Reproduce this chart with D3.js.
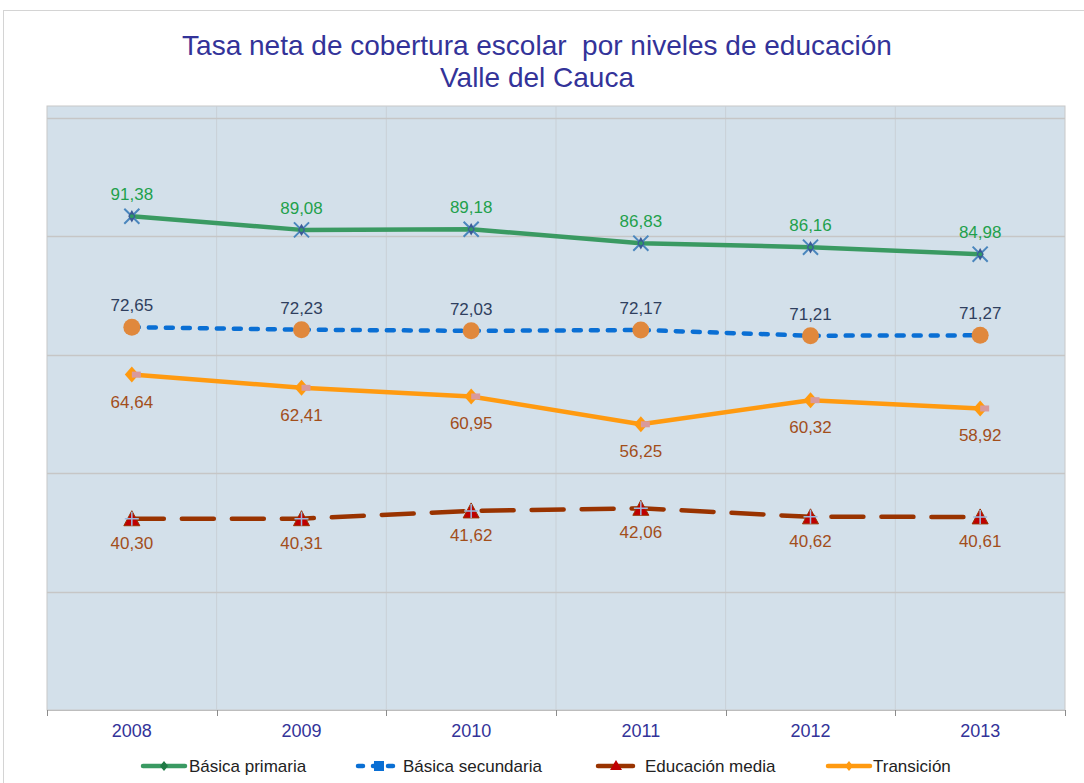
<!DOCTYPE html>
<html>
<head>
<meta charset="utf-8">
<script src="https://cdn.jsdelivr.net/npm/d3@7"></script>
<style>
  body { margin: 0; background: #fff; }
  svg { display: block; font-family: "Liberation Sans", Arial, sans-serif; }
</style>
</head>
<body>
<div id="chart"></div>
<script>
// data
const years = ['2008', '2009', '2010', '2011', '2012', '2013'];
const primaria = [91.38, 89.08, 89.18, 86.83, 86.16, 84.98];
const secundaria = [72.65, 72.23, 72.03, 72.17, 71.21, 71.27];
const media = [40.30, 40.31, 41.62, 42.06, 40.62, 40.61];
const transicion = [64.64, 62.41, 60.95, 56.25, 60.32, 58.92];
const gridValues = [28, 48, 68, 88, 108];

const width = 1084, height = 783;
const plot = { left: 47, right: 1065, top: 106, bottom: 710 };

const svg = d3.select('#chart').append('svg')
    .attr('width', width)
    .attr('height', height);

// outer chart border
svg.append('rect')
    .attr('x', 3.5).attr('y', 10.5)
    .attr('width', 1100).attr('height', 800)
    .attr('fill', 'none')
    .attr('stroke', '#d4d4d4');

// title
const title = svg.append('text')
    .attr('text-anchor', 'middle')
    .attr('fill', '#333399')
    .style('font-size', '28px');
title.append('tspan').attr('x', 537).attr('y', 55)
    .text('Tasa neta de cobertura escolar\u00a0 por niveles de educación');
title.append('tspan').attr('x', 537).attr('y', 87)
    .text('Valle del Cauca');

const x = d3.scaleBand().domain(years).range([plot.left, plot.right]).padding(0);
const y = d3.scaleLinear().domain([8, 110]).range([plot.bottom, plot.top]);

// plot area
svg.append('rect')
    .attr('x', plot.left).attr('y', plot.top)
    .attr('width', plot.right - plot.left)
    .attr('height', plot.bottom - plot.top)
    .attr('fill', '#d3e0ea')
    .attr('stroke', '#c8c8c8');

// vertical grid at category boundaries
const edges = years.map(d => x(d)).concat([plot.right]);
svg.append('g').selectAll('line')
    .data(edges.slice(1, -1))
    .enter().append('line')
    .attr('x1', d => d).attr('x2', d => d)
    .attr('y1', plot.top).attr('y2', plot.bottom)
    .attr('stroke', '#c9d0d6');

// horizontal grid
svg.append('g').selectAll('line')
    .data(gridValues)
    .enter().append('line')
    .attr('x1', plot.left).attr('x2', plot.right)
    .attr('y1', d => Math.round(y(d)) + 0.5).attr('y2', d => Math.round(y(d)) + 0.5)
    .attr('stroke', '#c6c6c6')
    .attr('stroke-width', 1.5);

// x axis
svg.append('line')
    .attr('x1', plot.left).attr('x2', plot.right)
    .attr('y1', plot.bottom + 0.5).attr('y2', plot.bottom + 0.5)
    .attr('stroke', '#bdbdbd');
svg.append('g').selectAll('line')
    .data(edges)
    .enter().append('line')
    .attr('x1', d => Math.round(d) + 0.5).attr('x2', d => Math.round(d) + 0.5)
    .attr('y1', plot.bottom).attr('y2', plot.bottom + 6)
    .attr('stroke', '#8c8c8c');

const xAxis = svg.append('g')
    .attr('transform', `translate(0,${plot.bottom + 10})`)
    .call(d3.axisBottom(x).tickSize(0).tickPadding(4));
xAxis.select('.domain').remove();
xAxis.selectAll('text')
    .attr('fill', '#333399')
    .style('font-size', '18px')
    .style('font-family', '"Liberation Sans", Arial, sans-serif');

const cx = d => x(d) + x.bandwidth() / 2;
const line = d3.line().x(d => cx(d.year)).y(d => y(d.value));
const fmt = v => v.toFixed(2).replace('.', ',');

const seriesList = [
    { name: 'Básica primaria', values: primaria, color: '#3a9a62', dash: null, labelColor: '#1fa04c', dy: -16, marker: 'star' },
    { name: 'Básica secundaria', values: secundaria, color: '#0a6fd4', dash: '7,10', labelColor: '#2f3f5e', dy: -16, marker: 'circle' },
    { name: 'Educación media', values: media, color: '#993300', dash: '32,18', labelColor: '#a24e1a', dy: 30, marker: 'triangle' },
    { name: 'Transición', values: transicion, color: '#ff9a10', dash: null, labelColor: '#a24e1a', dy: 33, marker: 'diamond' }
];

function drawMarker(g, type) {
    if (type === 'star') {
        g.append('path')
            .attr('d', d3.symbol().type(d3.symbolX).size(150)())
            .attr('stroke', '#4a86bd').attr('stroke-width', 2).attr('fill', 'none');
        g.append('path')
            .attr('d', d3.symbol().type(d3.symbolDiamond).size(45)())
            .attr('fill', '#3b5a96');
        g.append('circle').attr('r', 2).attr('fill', '#2e9a66');
    } else if (type === 'circle') {
        g.append('circle').attr('r', 8.5).attr('fill', '#e0883c');
    } else if (type === 'triangle') {
        g.append('path')
            .attr('d', 'M0,-8L8,7L-8,7Z')
            .attr('fill', '#c00000').attr('stroke', '#993300').attr('stroke-width', 1);
        g.append('path').attr('d', 'M-7,0H7M0,-7V7')
            .attr('stroke', '#9cb9e0').attr('stroke-width', 1.5);
    } else if (type === 'diamond') {
        g.append('path')
            .attr('d', 'M0,-8L7,0L0,8L-7,0Z')
            .attr('fill', '#ff9a10');
        g.append('rect').attr('x', 0).attr('y', -3).attr('width', 9).attr('height', 6)
            .attr('fill', '#d99a9c');
    }
}

function drawLegendMarker(g, s) {
    if (s.marker === 'circle') {
        g.append('rect').attr('x', -5).attr('y', -5).attr('width', 10).attr('height', 10).attr('fill', '#0a6fd4');
    } else if (s.marker === 'triangle') {
        g.append('path').attr('d', 'M0,-6L6,4L-6,4Z').attr('fill', '#c00000');
    } else {
        g.append('path').attr('d', 'M0,-5L4,0L0,5L-4,0Z').attr('fill', s.marker === 'star' ? '#1f7a45' : '#ff9a10');
    }
}

seriesList.forEach(s => {
    const pts = years.map((yr, i) => ({ year: yr, value: s.values[i] }));
    const g = svg.append('g');
    g.append('path')
        .datum(pts)
        .attr('d', line)
        .attr('fill', 'none')
        .attr('stroke', s.color)
        .attr('stroke-width', 4.5)
        .attr('stroke-linecap', s.dash ? 'round' : 'butt')
        .attr('stroke-linejoin', 'round')
        .attr('stroke-dasharray', s.dash);

    pts.forEach(p => {
        const m = g.append('g').attr('transform', `translate(${cx(p.year)},${y(p.value)})`);
        drawMarker(m, s.marker);
    });

    g.selectAll('text.lbl')
        .data(pts)
        .enter().append('text')
        .attr('class', 'lbl')
        .attr('x', d => cx(d.year))
        .attr('y', d => y(d.value) + s.dy)
        .attr('text-anchor', 'middle')
        .attr('fill', s.labelColor)
        .style('font-size', '17px')
        .text(d => fmt(d.value));
});

// legend
const legendX = [143, 358, 598, 828];
const legendTextX = [189, 403, 645, 873];
seriesList.forEach((s, i) => {
    const lg = svg.append('g').attr('transform', `translate(${legendX[i]},766)`);
    lg.append('line')
        .attr('x1', 0).attr('x2', s.marker === 'triangle' ? 35 : 42)
        .attr('stroke', s.color)
        .attr('stroke-width', 4.5)
        .attr('stroke-linecap', 'round')
        .attr('stroke-dasharray', s.marker === 'circle' ? '5,10' : null);
    const m = lg.append('g').attr('transform', `translate(${s.marker === 'triangle' ? 18 : 21},0)`);
    drawLegendMarker(m, s);
    svg.append('text')
        .attr('x', legendTextX[i])
        .attr('y', 772)
        .attr('fill', '#222')
        .style('font-size', '17px')
        .text(s.name);
});
</script>
</body>
</html>
